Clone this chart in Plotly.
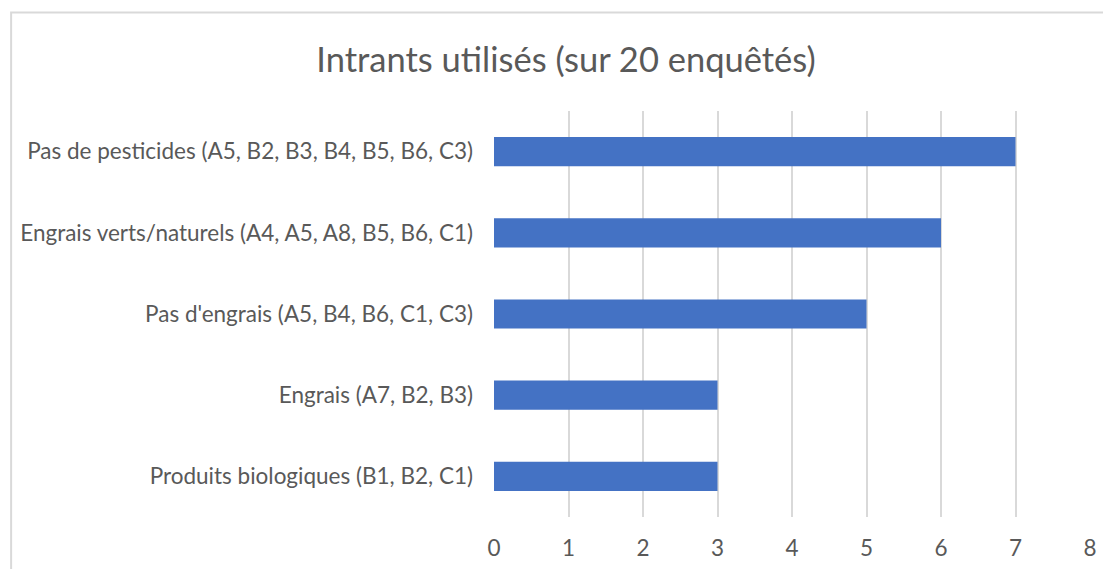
import plotly.graph_objects as go

categories = [
    "Pas de pesticides (A5, B2, B3, B4, B5, B6, C3)",
    "Engrais verts/naturels (A4, A5, A8, B5, B6, C1)",
    "Pas d'engrais (A5, B4, B6, C1, C3)",
    "Engrais (A7, B2, B3)",
    "Produits biologiques (B1, B2, C1)",
]
values = [7, 6, 5, 3, 3]
x_ticks = [0, 1, 2, 3, 4, 5, 6, 7, 8]
title = "Intrants utilisés (sur 20 enquêtés)"

W, H = 1111, 569
OFF = 8  # page body margin
L, R, T, B = 492 - OFF, 29, 111 - OFF, 60
pw, ph = W - L - R, H - T - B

fig = go.Figure(go.Bar(
    y=categories, x=values, orientation="h",
    marker=dict(color="#4472C4", line=dict(width=0)),
))

fig.update_layout(
    width=W, height=H,
    margin=dict(l=L, r=R, t=T, b=B),
    paper_bgcolor="white", plot_bgcolor="white",
    bargap=0.64,
    showlegend=False,
    font=dict(family="Lato", color="#595959", size=22.5),
    title=dict(text=title, x=(566 - OFF) / W, xanchor="center", y=1 - (60 - OFF) / H, yanchor="middle",
               font=dict(size=34.5, color="#595959")),
    xaxis=dict(range=[0, 8], tickvals=x_ticks, showgrid=True, gridcolor="#D9D9D9",
               gridwidth=1.5, zeroline=False, showline=False, ticks="",
               ticklabelstandoff=15, tickfont=dict(size=22.5)),
    yaxis=dict(autorange="reversed", showgrid=False, ticks="", showline=False,
               ticklabelstandoff=20, tickfont=dict(size=22.5)),
    shapes=[dict(type="rect", xref="paper", yref="paper",
                 x0=(7.5 - OFF - L) / pw, x1=1 + 60 / pw,
                 y0=-100 / ph, y1=1 + (T - (12.5 - OFF)) / ph,
                 line=dict(color="#D9D9D9", width=2), fillcolor="rgba(0,0,0,0)", layer="below")],
)

fig.write_html("out.html")
